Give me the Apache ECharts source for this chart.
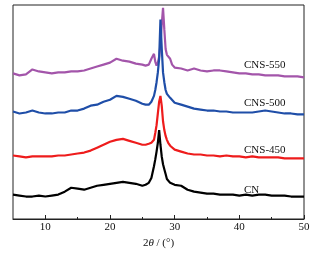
<!DOCTYPE html>
<html>
<head>
<meta charset="utf-8">
<script src="https://cdn.jsdelivr.net/npm/echarts@6/dist/echarts.min.js"></script>
<style>html,body{margin:0;padding:0;background:#fff;}#c{width:317px;height:254px;}</style>
</head>
<body>
<div id="c"></div>
<script>
// 2θ positions (degrees)
const twoTheta = [5,6,7,8,9,10,11,12,13,14,15,16,17,18,19,20,21,22,23,24,25,25.5,26,26.4,26.8,27.0,27.2,27.4,27.6,27.8,28.0,28.2,28.4,28.6,28.8,29.0,29.3,29.6,30,31,32,33,34,35,36,37,38,39,40,41,42,43,44,45,46,47,48,49,50];
// intensities (a.u., offset stacked)
const CN     = [25,24,23,23,24,23,24,25,28,32,31,30,32,34,35,36,37,38,37,36,34,35,37,42,54,61,69,78,91,76,64,56,51,46,41,39,37,36,35,34,30,28,27,26,26,25,25,25,24,25,24,25,25,24,24,24,23,23,23];
const CNS450 = [65,64,63,64,64,64,64,65,65,66,67,68,70,73,76,79,81,82,80,78,76,76,77,78,81,88,96,108,120,126,116,100,91,85,81,78,75,73,71,69,67,66,66,65,65,64,65,64,64,63,64,63,63,63,63,62,62,62,62];
const CNS500 = [110,108,109,111,109,108,108,109,109,111,111,113,116,117,120,122,126,125,123,121,118,117,117,120,126,132,140,150,164,204,175,150,140,132,128,126,124,122,119,117,115,113,112,111,111,110,110,109,109,109,109,110,111,110,109,108,108,107,107];
const CNS550 = [149,147,148,153,151,150,149,150,150,151,151,152,154,156,158,160,164,162,161,159,158,157,158,164,169,161,157,160,166,179,199,216,194,174,168,166,164,158,155,154,152,154,152,151,152,152,151,150,149,149,148,148,147,147,147,146,146,146,145];
const xTickLabels = [10,20,30,40,50];
const xMinorTicks = [15,25,35,45];
const seriesNames = ['CNS-550','CN','CNS-450','CNS-500'];

const zip = arr => twoTheta.map((x,i)=>[x,arr[i]]);
const FONT = 'Liberation Serif';
const chart = echarts.init(document.getElementById('c'), null, {renderer:'canvas'});
const lineS = (name, data, color) => ({
  name, type:'line', data: zip(data), showSymbol:false, symbol:'none',
  lineStyle:{color, width:2.2}, itemStyle:{color}, animation:false
});
chart.setOption({
  backgroundColor:'#ffffff',
  animation:false,
  grid:{left:13,right:13,top:5,bottom:30,show:true,borderColor:'#222',borderWidth:1,backgroundColor:'transparent'},
  xAxis:[{
    type:'value', min:5, max:50,
    axisLine:{show:true,lineStyle:{color:'#222',width:1}},
    splitLine:{show:false},
    axisTick:{show:true,inside:true,length:4,customValues:xTickLabels,lineStyle:{color:'#222'}},
    axisLabel:{customValues:xTickLabels,margin:3,fontFamily:FONT,fontSize:11,color:'#111'},
    name:'{n|2}{i|θ}{n| / (°)}', nameLocation:'middle', nameGap:19,
    nameTextStyle:{rich:{n:{fontFamily:FONT,fontSize:11,color:'#111'},i:{fontFamily:FONT,fontSize:11,fontStyle:'italic',color:'#111'}}}
  },{
    type:'value', min:5, max:50, position:'bottom',
    axisLine:{show:false}, splitLine:{show:false},
    axisTick:{show:true,inside:true,length:2,customValues:xMinorTicks,lineStyle:{color:'#222'}},
    axisLabel:{show:false}
  }],
  yAxis:{type:'value',min:0,max:219,show:false,splitLine:{show:false}},
  series:[
    lineS(seriesNames[0], CNS550, '#a355aa'),
    lineS(seriesNames[1], CN, '#000000'),
    lineS(seriesNames[2], CNS450, '#ee1c1c'),
    lineS(seriesNames[3], CNS500, '#1f4ea8')
  ],
  graphic:[
    {type:'text',left:244,top:60,style:{text:'CNS-550',font:'11px "Liberation Serif"',fill:'#111'}},
    {type:'text',left:244,top:98,style:{text:'CNS-500',font:'11px "Liberation Serif"',fill:'#111'}},
    {type:'text',left:244,top:145,style:{text:'CNS-450',font:'11px "Liberation Serif"',fill:'#111'}},
    {type:'text',left:244,top:185,style:{text:'CN',font:'11px "Liberation Serif"',fill:'#111'}}
  ]
});
</script>
</body>
</html>
